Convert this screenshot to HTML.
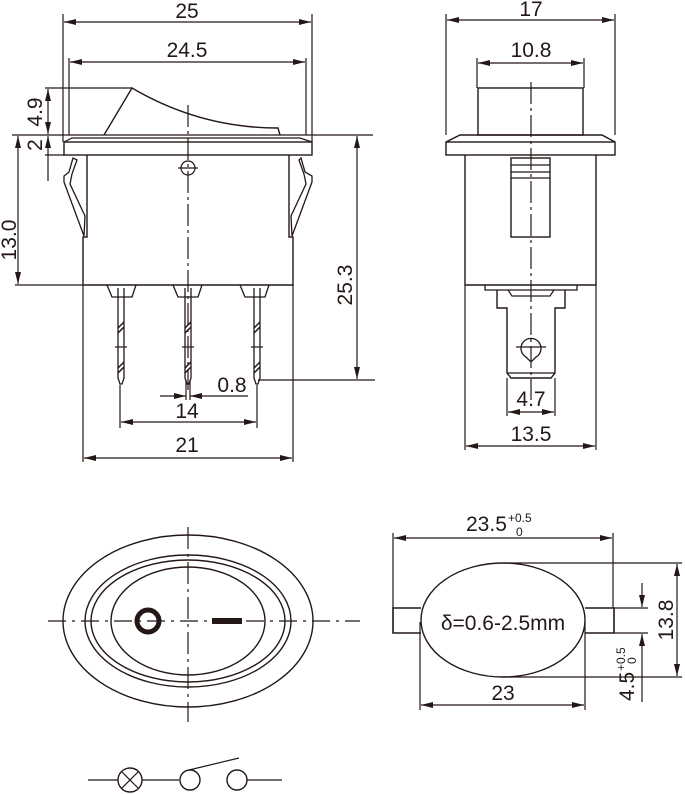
<!DOCTYPE html>
<html><head><meta charset="utf-8"><style>
html,body{margin:0;padding:0;background:#fff}
svg{display:block}
text{font-family:"Liberation Sans",Arial,sans-serif;fill:#231815}
</style></head><body>
<svg width="685" height="794" viewBox="0 0 685 794" xmlns="http://www.w3.org/2000/svg">
<defs>
<marker id="a" viewBox="0 0 12 6" refX="12" refY="3" markerWidth="12" markerHeight="6" orient="auto-start-reverse" markerUnits="userSpaceOnUse">
<path d="M0,0 L12,3 L0,6 Z" fill="#231815"/></marker>
</defs>
<g stroke="#231815" stroke-width="1.2" fill="none">
<line x1="63" y1="14" x2="63" y2="142"/><line x1="312" y1="14" x2="312" y2="142"/>
<line x1="64" y1="22" x2="311" y2="22" marker-start="url(#a)" marker-end="url(#a)"/>
<line x1="69" y1="58" x2="69" y2="135"/><line x1="306" y1="58" x2="306" y2="135"/>
<line x1="70" y1="62" x2="305" y2="62" marker-start="url(#a)" marker-end="url(#a)"/>
<path d="M104,135 L132,88 Q200,128 278,128 L280,135" stroke-width="1.4"/>
<line x1="45" y1="88" x2="132" y2="88"/>
<line x1="12" y1="135" x2="373" y2="135"/>
<path d="M64,142 L72,138 L300,138 L312,142" />
<rect x="64" y="142" width="248" height="13" stroke-width="1.4"/>
<line x1="45" y1="155" x2="64" y2="155"/>
<line x1="48" y1="89" x2="48" y2="134" marker-start="url(#a)" marker-end="url(#a)"/>
<line x1="48" y1="136" x2="48" y2="155" marker-start="url(#a)"/>
<line x1="48" y1="155" x2="48" y2="181" />
<path d="M87,155 L87,237 L83,237 L83,285 L293,285 L293,237 L289,237 L289,155" stroke-width="1.4"/>
<path d="M73,158 L69,172 L64,176 L64,182 L84,236 L85,216 L70,184 L72,174 L77,160 Z" stroke-width="1.3"/>
<path d="M301,158 L305,172 L312,176 L312,182 L292,236 L291,216 L306,184 L304,174 L299,160 Z" stroke-width="1.3"/>
<circle cx="188" cy="168" r="7"/><line x1="178" y1="168" x2="198" y2="168"/>
<line x1="188" y1="105" x2="188" y2="390" stroke-dasharray="22,4,3,4"/>
<line x1="15" y1="285" x2="83" y2="285"/>
<line x1="18" y1="136" x2="18" y2="284" marker-start="url(#a)" marker-end="url(#a)"/>
<line x1="357" y1="136" x2="357" y2="379" marker-start="url(#a)" marker-end="url(#a)"/>
<line x1="258" y1="380" x2="375" y2="380"/>
<g stroke-width="1.3">
<path d="M107,285 L112,297 L132,297 L136,285"/>
<path d="M173,285 L178,297 L198,297 L202,285"/>
<path d="M240,285 L245,297 L265,297 L269,285"/>
<path d="M118,288 L118,378 L120,384 L122,384 L124,378 L124,288"/>
<path d="M185,288 L185,378 L187,384 L189,384 L191,378 L191,288"/>
<path d="M254,288 L254,378 L256,384 L258,384 L260,378 L260,288"/>
</g>
<g stroke-width="1.5">
<line x1="118" y1="328" x2="124" y2="322"/><line x1="118" y1="333" x2="124" y2="327"/>
<line x1="185" y1="328" x2="191" y2="322"/><line x1="185" y1="333" x2="191" y2="327"/>
<line x1="254" y1="328" x2="260" y2="322"/><line x1="254" y1="333" x2="260" y2="327"/>
<line x1="118" y1="368" x2="124" y2="362"/><line x1="118" y1="373" x2="124" y2="367"/>
<line x1="185" y1="368" x2="191" y2="362"/><line x1="185" y1="373" x2="191" y2="367"/>
<line x1="254" y1="368" x2="260" y2="362"/><line x1="254" y1="373" x2="260" y2="367"/>
</g>
<line x1="115" y1="347" x2="127" y2="347"/><line x1="182" y1="347" x2="194" y2="347"/><line x1="251" y1="347" x2="263" y2="347"/>
<line x1="186" y1="380" x2="186" y2="400"/><line x1="190" y1="380" x2="190" y2="400"/>
<line x1="160" y1="396" x2="186" y2="396" marker-end="url(#a)"/>
<line x1="190" y1="396" x2="248" y2="396" marker-start="url(#a)"/>
<line x1="120" y1="385" x2="120" y2="428"/><line x1="257" y1="385" x2="257" y2="428"/>
<line x1="121" y1="422" x2="256" y2="422" marker-start="url(#a)" marker-end="url(#a)"/>
<line x1="83" y1="285" x2="83" y2="462"/><line x1="293" y1="285" x2="293" y2="462"/>
<line x1="84" y1="458" x2="292" y2="458" marker-start="url(#a)" marker-end="url(#a)"/>

<line x1="446" y1="14" x2="446" y2="135"/><line x1="615" y1="14" x2="615" y2="135"/>
<line x1="447" y1="20" x2="614" y2="20" marker-start="url(#a)" marker-end="url(#a)"/>
<line x1="477" y1="58" x2="477" y2="88"/><line x1="584" y1="58" x2="584" y2="88"/>
<line x1="478" y1="63" x2="583" y2="63" marker-start="url(#a)" marker-end="url(#a)"/>
<rect x="478" y="88" width="105" height="47" stroke-width="1.4"/>
<path d="M446,142 L460,135 L602,135 L615,142" stroke-width="1.4"/>
<rect x="446" y="142" width="169" height="13" stroke-width="1.4"/>
<path d="M465,155 L465,285 L596,285 L596,155" stroke-width="1.4"/>
<rect x="511" y="158" width="39" height="79" stroke-width="1.4"/>
<line x1="511" y1="165" x2="550" y2="165"/><line x1="511" y1="172" x2="550" y2="172"/><line x1="511" y1="178" x2="550" y2="178"/>
<path d="M485,285 L485,290 L577,290 L577,285" stroke-width="1.3"/>
<path d="M497,290 L497,308 L507,308 L507,373 L511,378 L551,378 L555,373 L555,308 L565,308 L565,290" stroke-width="1.4"/>
<path d="M508,290 L512,296 L550,296 L554,290"/>
<line x1="507" y1="373" x2="555" y2="373"/>
<path d="M526,357 A10,10 0 1 1 536,357 L531,362 Z" stroke-width="1.3"/>
<line x1="516" y1="347" x2="546" y2="347"/>
<line x1="531" y1="82" x2="531" y2="400" stroke-dasharray="22,4,3,4"/>
<line x1="507" y1="378" x2="507" y2="416"/><line x1="555" y1="378" x2="555" y2="416"/>
<line x1="508" y1="412" x2="554" y2="412" marker-start="url(#a)" marker-end="url(#a)"/>
<line x1="465" y1="285" x2="465" y2="450"/><line x1="596" y1="285" x2="596" y2="450"/>
<line x1="466" y1="446" x2="595" y2="446" marker-start="url(#a)" marker-end="url(#a)"/>

<ellipse cx="188" cy="621" rx="125" ry="86" stroke-width="1.4"/>
<ellipse cx="188" cy="621" rx="103" ry="66" stroke-width="1.4"/>
<ellipse cx="188" cy="621" rx="97" ry="61" stroke-width="1.4"/>
<ellipse cx="188" cy="621" rx="77" ry="54" stroke-width="1.4"/>
<line x1="48" y1="621" x2="360" y2="621" stroke-dasharray="18,6,3,6"/>
<line x1="188" y1="527" x2="188" y2="722" stroke-dasharray="22,5,3,5"/>
<circle cx="148" cy="621" r="11" stroke-width="5"/>
<rect x="212" y="618" width="30" height="6" fill="#231815" stroke="none"/>
<line x1="88" y1="780" x2="118" y2="780"/>
<circle cx="130" cy="780" r="12" stroke-width="1.4"/>
<line x1="122" y1="772" x2="138" y2="788"/><line x1="138" y1="772" x2="122" y2="788"/>
<line x1="142" y1="780" x2="179" y2="780"/>
<circle cx="190" cy="780" r="10" stroke-width="1.4"/>
<circle cx="237" cy="780" r="10" stroke-width="1.4"/>
<line x1="247" y1="780" x2="282" y2="780"/>
<line x1="189" y1="770" x2="239" y2="758"/>

<path d="M421,608 L393,608 L393,633 L421,633" stroke-width="1.6"/>
<path d="M585,608 L614,608 L614,633 L585,633" stroke-width="1.6"/>
<ellipse cx="503" cy="620" rx="82" ry="57" stroke-width="1.4"/>
<line x1="393" y1="533" x2="393" y2="608"/><line x1="613" y1="533" x2="613" y2="608"/>
<line x1="394" y1="538" x2="612" y2="538" marker-start="url(#a)" marker-end="url(#a)"/>
<line x1="503" y1="563" x2="682" y2="563"/><line x1="503" y1="677" x2="682" y2="677"/>
<line x1="677" y1="564" x2="677" y2="676" marker-start="url(#a)" marker-end="url(#a)"/>
<line x1="614" y1="608" x2="648" y2="608"/><line x1="614" y1="633" x2="648" y2="633"/>
<line x1="642" y1="583" x2="642" y2="607" marker-end="url(#a)"/>
<line x1="642" y1="702" x2="642" y2="634" marker-end="url(#a)"/>
<line x1="420" y1="622" x2="420" y2="710"/><line x1="585" y1="622" x2="585" y2="710"/>
<line x1="421" y1="705" x2="584" y2="705" marker-start="url(#a)" marker-end="url(#a)"/>
</g>

<g font-size="21">
<text x="187" y="18" text-anchor="middle">25</text>
<text x="187" y="57" text-anchor="middle">24.5</text>
<text transform="translate(42,112) rotate(-90)" text-anchor="middle">4.9</text>
<text transform="translate(42,145) rotate(-90)" text-anchor="middle">2</text>
<text transform="translate(16,240) rotate(-90)" text-anchor="middle">13.0</text>
<text transform="translate(352,285) rotate(-90)" text-anchor="middle">25.3</text>
<text x="232" y="392" text-anchor="middle">0.8</text>
<text x="187" y="418" text-anchor="middle">14</text>
<text x="187" y="452" text-anchor="middle">21</text>
<text x="531" y="16" text-anchor="middle">17</text>
<text x="531" y="57" text-anchor="middle">10.8</text>
<text x="531" y="406" text-anchor="middle">4.7</text>
<text x="531" y="441" text-anchor="middle">13.5</text>
<text x="466" y="531">23.5</text>
<text x="503" y="700" text-anchor="middle">23</text>
<text transform="translate(673,620) rotate(-90)" text-anchor="middle">13.8</text>
<text transform="translate(634,701) rotate(-90)">4.5</text>
<text x="503" y="630" text-anchor="middle">δ=0.6-2.5mm</text>
</g>
<g font-size="12">
<text x="508" y="522">+0.5</text>
<text x="516" y="536">0</text>
<text transform="translate(625,671) rotate(-90)">+0.5</text>
<text transform="translate(636,664) rotate(-90)">0</text>
</g>
</svg>
</body></html>
